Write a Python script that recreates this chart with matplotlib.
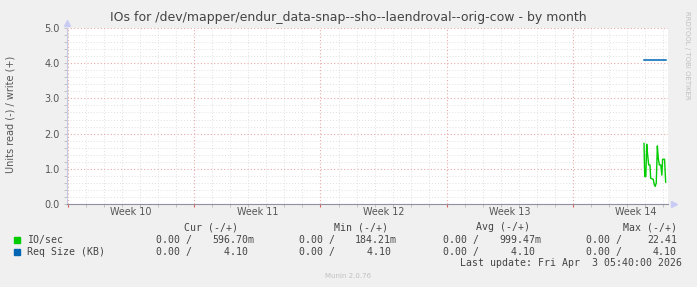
import matplotlib
matplotlib.use("Agg")
import matplotlib.pyplot as plt
from matplotlib.ticker import MultipleLocator

# time axis in days since Mon 2 Mar 2026 00:00
week_labels = ["Week 10", "Week 11", "Week 12", "Week 13", "Week 14"]
week_mid = [3.5, 10.5, 17.5, 24.5, 31.5]

io_time = [31.93, 31.97, 32.03, 32.08, 32.13, 32.19, 32.26, 32.30, 32.36, 32.44, 32.50,
           32.55, 32.61, 32.67, 32.72, 32.78, 32.86, 32.92, 32.96, 33.01, 33.07, 33.13]
io_sec = [1.72, 0.78, 0.78, 1.70, 1.40, 1.11, 1.11, 0.73, 0.72, 0.70, 0.55,
          0.50, 0.60, 1.65, 1.30, 1.11, 1.11, 0.82, 1.27, 1.27, 1.27, 0.62]

req_time = [31.93, 33.15]
req_size = [4.10, 4.10]

legend_names = ["IO/sec", "Req Size (KB)"]
legend_colors = ["#00cc00", "#0066b3"]
cur_vals = [("0.00 /", "596.70m"), ("0.00 /", "4.10 ")]
min_vals = [("0.00 /", "184.21m"), ("0.00 /", "4.10 ")]
avg_vals = [("0.00 /", "999.47m"), ("0.00 /", "4.10 ")]
max_vals = [("0.00 /", "22.41"), ("0.00 /", "4.10")]

W, H = 697, 287
BG = "#f0f0f0"
TXT = "#555555"
MINOR = "#e0e0e0"
MAJOR = "#eaa8a8"

fig = plt.figure(figsize=(W / 100, H / 100), dpi=100, facecolor=BG)
ax = fig.add_axes([67 / W, (H - 204) / H, (668 - 67) / W, 176 / H])
ax.set_facecolor("white")

ax.plot(io_time, io_sec, color="#00cc00", lw=1.0)
ax.plot(req_time, req_size, color="#0066b3", lw=1.1)

ax.set_xlim(-0.05, 33.26)
ax.set_ylim(0, 5)

ax.xaxis.set_major_locator(MultipleLocator(7))
ax.xaxis.set_minor_locator(MultipleLocator(1))
ax.yaxis.set_major_locator(MultipleLocator(1))
ax.yaxis.set_minor_locator(MultipleLocator(0.2))
ax.grid(which="minor", color=MINOR, ls=(0, (1, 2)), lw=0.7)
ax.grid(which="major", color=MAJOR, ls=(0, (1, 2)), lw=0.8)
ax.set_axisbelow(True)

ax.set_xticklabels([])
ax.set_yticks([0, 1, 2, 3, 4, 5])
ax.set_yticklabels(["0.0", "1.0", "2.0", "3.0", "4.0", "5.0"])
ax.tick_params(axis="y", which="both", length=2, width=0.6, color="#b8b8b8",
               labelsize=7, labelcolor=TXT, pad=3)
ax.tick_params(axis="x", which="minor", length=2, width=0.6, color="#b8b8b8", direction="out")
ax.tick_params(axis="x", which="major", length=2, width=0.8, color="#e06060", direction="out")

for lab, xm in zip(week_labels, week_mid):
    ax.text(xm, -(212 - 204) / 176, lab, transform=ax.get_xaxis_transform(), ha="center",
            va="center", fontsize=6.9, color=TXT)

for s in ["top", "right"]:
    ax.spines[s].set_visible(False)
ax.spines["left"].set_color("#c8c8e0")
ax.spines["left"].set_linewidth(0.8)
ax.spines["bottom"].set_color("#9090a0")
ax.spines["bottom"].set_linewidth(0.8)
ax.plot([0], [1.03], marker="^", color="#c8ccf4", ms=5, transform=ax.transAxes, clip_on=False)
ax.plot([1.01], [0], marker=">", color="#c8ccf4", ms=5, transform=ax.transAxes, clip_on=False)

fig.text(348 / W, 1 - 18 / H, "IOs for /dev/mapper/endur_data-snap--sho--laendroval--orig-cow - by month",
         ha="center", va="center", fontsize=9, color="#444444")
fig.text(11 / W, 1 - 114 / H, "Units read (-) / write (+)", rotation=90, ha="center", va="center",
         fontsize=7, color=TXT)
fig.text(687 / W, 1 - 55 / H, "RRDTOOL / TOBI OETIKER", rotation=270, ha="center", va="center",
         fontsize=5, color="#c0c0c0")

mono = dict(family="DejaVu Sans Mono", fontsize=7.1, color="#444444")

def px(x, y):
    return x / W, 1 - y / H

headers = [("Cur (-/+)", 238), ("Min (-/+)", 388), ("Avg (-/+)", 530), ("Max (-/+)", 677)]
for txt, xr in headers:
    fig.text(*px(xr, 227), txt, ha="right", va="center", **mono)

col_sep = [192, 335, 479, 622]
row_y = [240, 252]
for i, name in enumerate(legend_names):
    y = row_y[i]
    fig.patches.append(plt.Rectangle(px(14, y + 3), 6 / W, 6 / H, transform=fig.transFigure,
                                     color=legend_colors[i]))
    fig.text(*px(27, y), name, ha="left", va="center", **mono)
    for j, vals in enumerate([cur_vals, min_vals, avg_vals]):
        fig.text(*px(col_sep[j], y), vals[i][0], ha="right", va="center", **mono)
        fig.text(*px(col_sep[j] + 20, y), " " * (7 - len(vals[i][1])) + vals[i][1],
                 ha="left", va="center", **mono)
    fig.text(*px(col_sep[3], y), max_vals[i][0], ha="right", va="center", **mono)
    fig.text(*px(677, y), max_vals[i][1], ha="right", va="center", **mono)

fig.text(*px(682, 263), "Last update: Fri Apr  3 05:40:00 2026", ha="right", va="center", **mono)
fig.text(*px(348, 276), "Munin 2.0.76", ha="center", va="center", fontsize=5, color="#c0c0c0")

fig.savefig("out.png", dpi=100, facecolor=BG)
